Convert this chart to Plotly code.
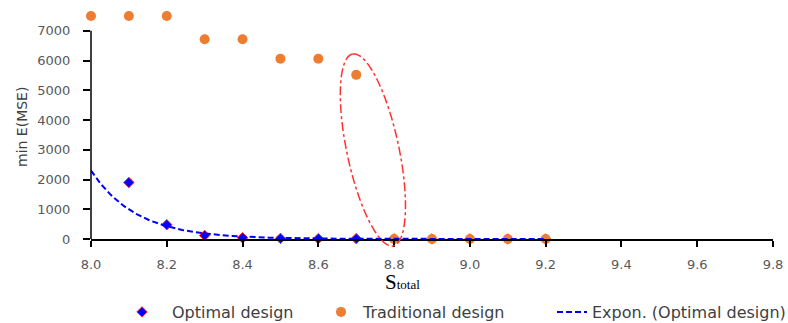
import numpy as np
import plotly.graph_objects as go

# Total budget S_total and minimum expected MSE for each design
trad_s = [8.0, 8.1, 8.2, 8.3, 8.4, 8.5, 8.6, 8.7, 8.8, 8.9, 9.0, 9.1, 9.2]
trad_mse = [7500, 7500, 7500, 6720, 6720, 6060, 6060, 5520, 0, 0, 0, 0, 0]

opt_s = [8.1, 8.2, 8.3, 8.4, 8.5, 8.6, 8.7, 8.8, 8.9, 9.0, 9.1, 9.2]
opt_mse = [1900, 480, 120, 40, 20, 12, 12.7, 4.5, 1.6, 0.57, 0.2, 0.07]

x_ticks = [8.0, 8.2, 8.4, 8.6, 8.8, 9.0, 9.2, 9.4, 9.6, 9.8]
y_ticks = [0, 1000, 2000, 3000, 4000, 5000, 6000, 7000]

X_RANGE = [8.0, 9.8]
Y_RANGE = [0, 7600]   # headroom above the last tick for the top markers
Y_AXIS_TOP = 7000     # the drawn axis line stops at the last tick

# Exponential trendline y = a*exp(b*x), fitted on log scale, with a 0.1 backward forecast
b, ln_a = np.polyfit(opt_s, np.log(opt_mse), 1)
trend_x = np.linspace(min(opt_s) - 0.1, max(opt_s), 300)
trend_y = np.exp(ln_a + b * trend_x)

W, H = 788, 323
M = dict(l=91, r=15, t=13, b=84, autoexpand=False)
plot_w = W - M["l"] - M["r"]
plot_h = H - M["t"] - M["b"]


def px_x(px):
    """Screen x pixel -> paper x."""
    return (px - M["l"]) / plot_w


def px_y(py):
    """Screen y pixel -> paper y."""
    return (H - M["b"] - py) / plot_h


def to_paper(x, y):
    return ((x - X_RANGE[0]) / (X_RANGE[1] - X_RANGE[0]),
            (y - Y_RANGE[0]) / (Y_RANGE[1] - Y_RANGE[0]))


tick_font = dict(family="DejaVu Sans", size=13, color="#595959")
legend_font = dict(family="DejaVu Sans", size=16, color="#404040")

fig = go.Figure()
fig.add_trace(go.Scatter(
    x=opt_s, y=opt_mse, mode="markers", name="Optimal design",
    marker=dict(symbol="diamond", size=8, color="#0000FF",
                line=dict(color="#FF2020", width=1)),
    cliponaxis=False, legend="legend",
))
fig.add_trace(go.Scatter(
    x=trad_s, y=trad_mse, mode="markers", name="Traditional design",
    marker=dict(symbol="circle", size=10, color="#ED7D31"),
    cliponaxis=False, legend="legend2",
))
fig.add_trace(go.Scatter(
    x=trend_x, y=trend_y, mode="lines", name="Expon. (Optimal design)",
    line=dict(color="#0000FF", width=2, dash="6px,3px"),
    legend="legend3",
))

# Vertical axis line, ending at the top tick
fig.add_shape(type="line", xref="paper", yref="y", x0=0, x1=0, y0=0, y1=Y_AXIS_TOP,
              line=dict(color="black", width=1.5))

# Highlight ellipse around the breakpoint, drawn in paper space so it is not clipped
cx, cy = to_paper(8.744, 2995)
semi_major, semi_minor, tilt = 98.0, 26.0, np.deg2rad(12)
t = np.linspace(0, 2 * np.pi, 120)
ux, uy = -np.sin(tilt), np.cos(tilt)   # major axis direction (pixels, y up)
vx, vy = np.cos(tilt), np.sin(tilt)    # minor axis direction
ox = semi_major * np.cos(t) * ux + semi_minor * np.sin(t) * vx
oy = semi_major * np.cos(t) * uy + semi_minor * np.sin(t) * vy
ex = cx + ox / plot_w
ey = cy + oy / plot_h
path = "M " + " L ".join(f"{a:.5f},{c:.5f}" for a, c in zip(ex, ey)) + " Z"
fig.add_shape(type="path", path=path, xref="paper", yref="paper",
              line=dict(color="#FF3030", width=1.5, dash="dashdot"))

# Axis titles
fig.add_annotation(
    text="S<span style='font-size:13px'>total</span>",
    xref="paper", yref="paper", x=px_x(402), y=px_y(282),
    xanchor="center", yanchor="middle", showarrow=False,
    font=dict(family="Liberation Serif", size=21, color="black"),
)
fig.add_annotation(
    text="min E(MSE)", textangle=-90,
    xref="paper", yref="paper", x=px_x(22), y=px_y(127),
    xanchor="center", yanchor="middle", showarrow=False,
    font=dict(family="DejaVu Sans", size=14, color="#404040"),
)

legend_common = dict(orientation="h", yanchor="middle", y=px_y(312),
                     xanchor="left", font=legend_font,
                     bgcolor="rgba(0,0,0,0)")

fig.update_layout(
    width=W, height=H, margin=M,
    paper_bgcolor="white", plot_bgcolor="white",
    showlegend=True,
    legend=dict(legend_common, x=px_x(112), itemwidth=50),
    legend2=dict(legend_common, x=px_x(319), itemwidth=34),
    legend3=dict(legend_common, x=px_x(552)),
    xaxis=dict(range=X_RANGE, tickvals=x_ticks,
               ticktext=[f"{v:.1f}" for v in x_ticks],
               showline=True, linecolor="black", linewidth=1.5,
               ticks="outside", ticklen=6, tickcolor="black", tickwidth=1.5,
               ticklabelstandoff=7,
               showgrid=False, zeroline=False, tickfont=tick_font,
               automargin=False),
    yaxis=dict(range=Y_RANGE, tickvals=y_ticks,
               ticktext=[str(v) for v in y_ticks],
               showline=False,
               ticks="outside", ticklen=7, tickcolor="black", tickwidth=1.5,
               ticklabelstandoff=10,
               showgrid=False, zeroline=False, tickfont=tick_font,
               automargin=False),
)

fig.write_html("out.html")
